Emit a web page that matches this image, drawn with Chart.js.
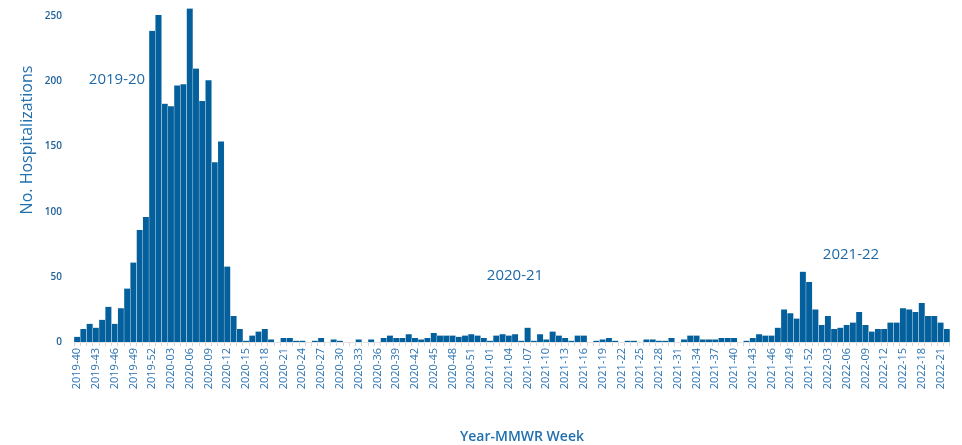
<!DOCTYPE html>
<html>
<head>
<meta charset="utf-8">
<title>No. Hospitalizations by Year-MMWR Week</title>
<script src="https://cdn.jsdelivr.net/npm/chart.js@4"></script>
<style>
  body { margin: 0; background: #fff; }
  #hospChart { display: block; }
</style>
</head>
<body>
<canvas id="hospChart" width="962" height="445"></canvas>
<script>
// Wochen je Saison (MMWR: Woche 40 bis Woche 39)
const saison1920 = [
  // 2019-40 .. 2019-52
  4, 10, 14, 11, 17, 27, 14, 26, 41, 61, 86, 96, 239,
  // 2020-01 .. 2020-39
  251, 183, 181, 197, 198, 256, 210, 185, 201, 138, 154, 58, 20, 10, 1, 5, 8, 10, 2, 0,
  3, 3, 1, 1, 0, 1, 3, 0, 2, 1, 0, 0, 2, 0, 2, 0, 3, 5, 3
];
const saison2021 = [
  // 2020-40 .. 2020-53
  3, 6, 3, 2, 3, 7, 5, 5, 5, 4, 5, 6, 5, 3,
  // 2021-01 .. 2021-39
  1, 5, 6, 5, 6, 1, 11, 1, 6, 2, 8, 5, 3, 1, 5, 5, 0, 1, 2, 3,
  1, 0, 1, 1, 0, 2, 2, 1, 1, 3, 0, 2, 5, 5, 2, 2, 2, 3, 3
];
const saison2122 = [
  // 2021-40 .. 2021-52
  3, 0, 1, 3, 6, 5, 5, 11, 25, 22, 18, 54, 46,
  // 2022-01 .. 2022-22
  25, 13, 20, 10, 11, 13, 15, 23, 13, 8, 10, 10, 15, 15, 26, 25, 23, 30, 20, 20, 15, 10
];

// Kategorien: Jahr und erste/letzte Woche
const wochenBereiche = [
  [2019, 40, 52],
  [2020, 1, 53],
  [2021, 1, 52],
  [2022, 1, 22]
];
const yTicks = [0, 50, 100, 150, 200, 250];
const saisonLabels = ['2019-20', '2020-21', '2021-22'];

const kategorien = [];
wochenBereiche.forEach(([jahr, von, bis]) => {
  for (let w = von; w <= bis; w++) {
    kategorien.push(jahr + '-' + String(w).padStart(2, '0'));
  }
});
const werte = saison1920.concat(saison2021, saison2122);

const blau = '#03609c';
const textBlau = '#1e68a8';

// Beschriftungen, die Plotly frei plaziert hat
const textPlugin = {
  id: 'texte',
  afterDraw(chart) {
    const ctx = chart.ctx;
    ctx.save();
    ctx.fillStyle = textBlau;
    ctx.textAlign = 'center';
    ctx.textBaseline = 'middle';
    ctx.font = '15px "Open Sans"';
    ctx.fillText(saisonLabels[0], 117, 80);
    ctx.fillText(saisonLabels[1], 515, 276);
    ctx.fillText(saisonLabels[2], 851, 255);

    // Achsentitel
    ctx.fillStyle = '#2170af';
    ctx.font = '600 14px "Open Sans"';
    ctx.fillText('Year-MMWR Week', 522, 437);

    ctx.font = '16px "Open Sans"';
    ctx.translate(27, 140);
    ctx.rotate(-Math.PI / 2);
    ctx.fillText('No. Hospitalizations', 0, 0);
    ctx.restore();
  }
};

const hospChart = document.querySelector('#hospChart');

new Chart(hospChart, {
  type: 'bar',
  data: {
    labels: kategorien,
    datasets: [{
      label: 'No. Hospitalizations',
      data: werte,
      backgroundColor: blau,
      borderColor: 'rgba(215, 228, 240, 0.9)',
      borderWidth: { left: 0.5, right: 0.5, top: 0, bottom: 0 },
      barPercentage: 1,
      categoryPercentage: 1
    }]
  },
  options: {
    responsive: false,
    animation: false,
    layout: {
      padding: { left: 0, right: 9, top: 6, bottom: 0 }
    },
    scales: {
      x: {
        offset: true,
        afterFit: (scale) => { scale.height = 103; },
        grid: {
          drawOnChartArea: false,
          drawTicks: true,
          tickLength: 4,
          color: '#d6d6d6'
        },
        border: { display: true, color: '#e2e2e2' },
        ticks: {
          autoSkip: false,
          maxRotation: 90,
          minRotation: 90,
          padding: 2,
          color: '#2a72b0',
          font: { family: '"Open Sans"', size: 11 },
          // nur jede dritte Woche beschriften
          callback: function (value, index) {
            return index % 3 === 0 ? this.getLabelForValue(value) : '';
          }
        }
      },
      y: {
        min: 0,
        max: 258,
        afterFit: (scale) => { scale.width = 74; },
        afterBuildTicks: (scale) => {
          scale.ticks = yTicks.map(v => ({ value: v }));
        },
        // Abstand der Beschriftung über tickLength, sonst wächst der obere Rand
        grid: { display: false, drawTicks: true, tickLength: 12 },
        border: { display: false },
        ticks: {
          padding: 0,
          color: '#1d5f97',
          font: { family: '"Open Sans"', size: 10, weight: '600' }
        }
      }
    },
    plugins: {
      legend: { display: false },
      tooltip: { enabled: false }
    }
  },
  plugins: [textPlugin]
});
</script>
</body>
</html>
